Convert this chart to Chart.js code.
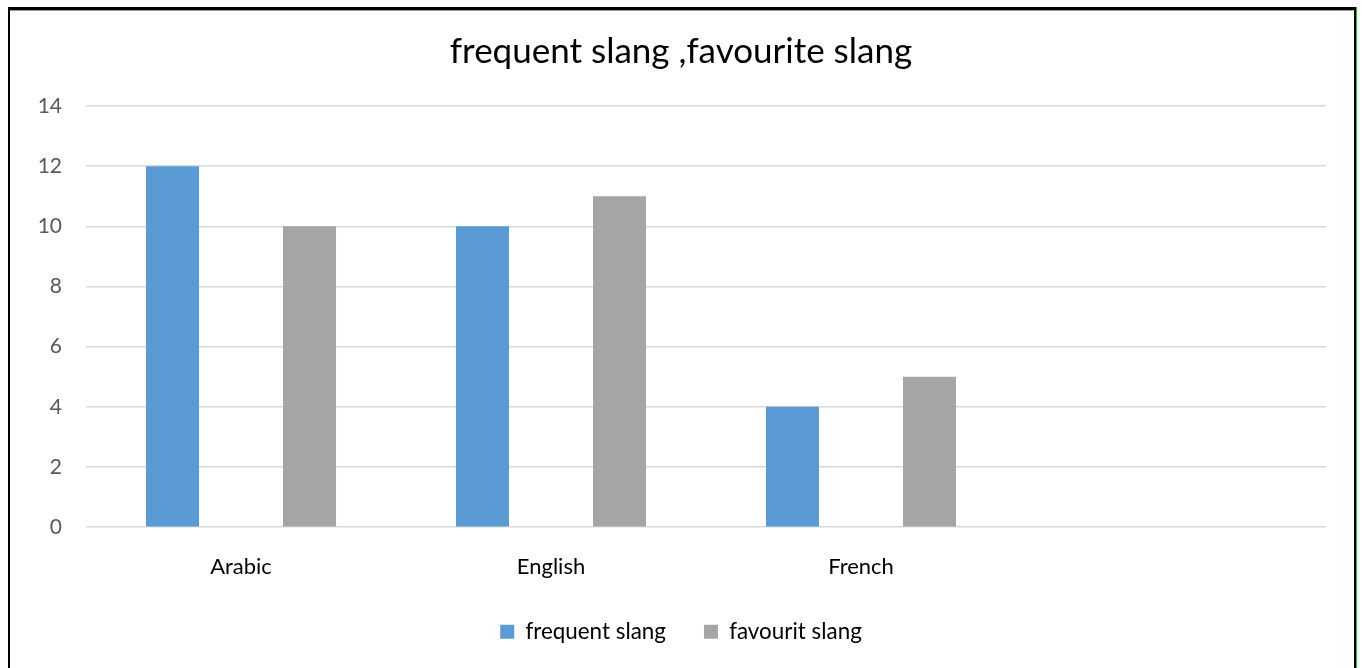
<!DOCTYPE html>
<html>
<head>
<meta charset="utf-8">
<script src="https://cdn.jsdelivr.net/npm/chart.js@4.4.1/dist/chart.umd.min.js"></script>
<style>
  html, body { margin: 0; padding: 0; background: #fff; }
  #wrap { position: relative; width: 1362px; height: 668px; overflow: hidden; }
  #grafico { position: absolute; left: 0; top: 0; }
  /* moldura em volta do gráfico */
  .frame { position: absolute; background: #000; }
</style>
</head>
<body>
<div id="wrap">
  <canvas id="grafico" width="1362" height="668"></canvas>
  <div class="frame" style="left:8px; top:7px; width:1347px; height:3px;"></div>
  <div class="frame" style="left:10px; top:10px; width:1343px; height:1px; background:#9a9a9a;"></div>
  <div class="frame" style="left:8px; top:7px; width:2px; height:661px;"></div>
  <div class="frame" style="left:1354px; top:7px; width:2px; height:661px;"></div>
  <div class="frame" style="left:1356px; top:7px; width:1px; height:661px; background:#1fbf1f;"></div>
</div>
<script>
const categorias = ['Arabic', 'English', 'French', ''];
const frequentSlang = [12, 10, 4, null];
const favouritSlang = [10, 11, 5, null];
const ticksY = [0, 2, 4, 6, 8, 10, 12, 14];

const fonte = 'Lato, "Noto Sans", sans-serif';

const ctx = document.getElementById('grafico').getContext('2d');
window.graficoInstance = new Chart(ctx, {
  type: 'bar',
  data: {
    labels: categorias,
    datasets: [
      {
        label: 'frequent slang',
        data: frequentSlang,
        backgroundColor: '#5b9bd5'
      },
      {
        label: 'favourit slang',
        data: favouritSlang,
        backgroundColor: '#a5a5a5'
      }
    ]
  },
  options: {
    responsive: false,
    animation: false,
    categoryPercentage: 0.884,
    barPercentage: 0.387,
    layout: { padding: { left: 0, right: 0, top: 0, bottom: 15 } },
    plugins: {
      title: {
        display: true,
        text: 'frequent slang ,favourite slang',
        color: '#000',
        font: { family: fonte, size: 35, weight: 'normal' },
        padding: { top: 31, bottom: 33 }
      },
      legend: {
        display: true,
        position: 'bottom',
        labels: {
          color: '#000',
          font: { family: fonte, size: 22.4 },
          boxWidth: 14,
          boxHeight: 14,
          padding: 38
        }
      },
      tooltip: { enabled: false }
    },
    scales: {
      x: {
        grid: { display: false },
        border: { display: false },
        ticks: {
          color: '#000',
          font: { family: fonte, size: 22 },
          padding: 19
        },
        // encolhe a faixa do eixo x para aproximar a legenda
        afterFit: function(scale) { scale.height -= 17; }
      },
      y: {
        min: 0,
        max: 14,
        afterBuildTicks: function(scale) {
          scale.ticks = ticksY.map(v => ({ value: v }));
        },
        afterFit: function(scale) { scale.width = 86; },
        grid: { color: '#d9d9d9', lineWidth: 1.5, drawTicks: false },
        border: { display: false },
        ticks: {
          color: '#595959',
          font: { family: fonte, size: 21 },
          padding: 24
        }
      },
      // eixo vazio só para reservar a margem direita
      yDir: {
        position: 'right',
        display: true,
        grid: { display: false },
        border: { display: false },
        ticks: { display: false },
        afterFit: function(scale) { scale.width = 36; }
      }
    }
  }
});
</script>
</body>
</html>
